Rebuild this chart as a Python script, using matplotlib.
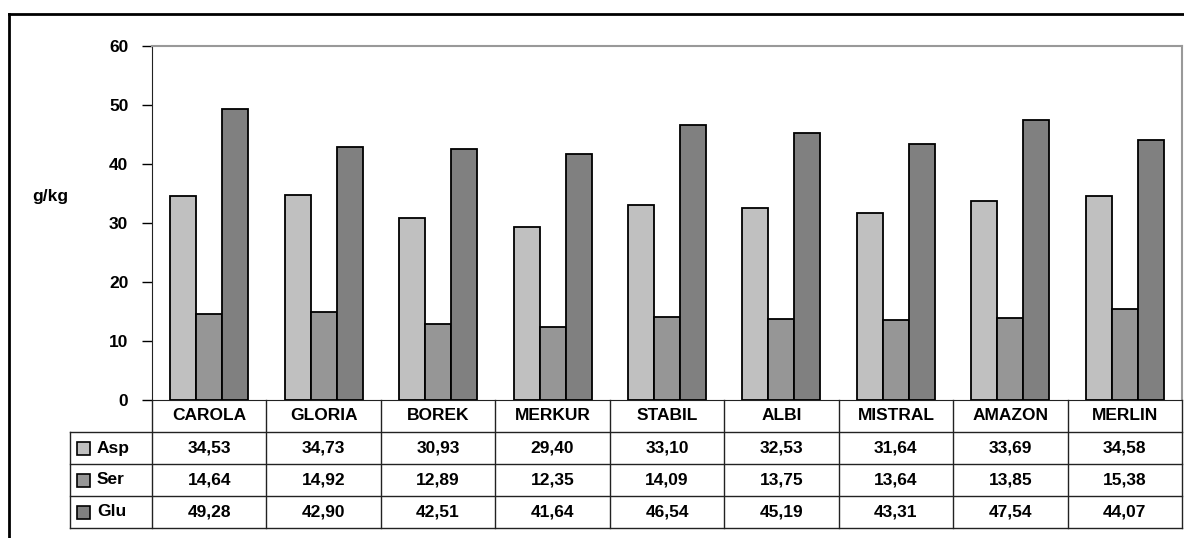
import matplotlib.pyplot as plt
import numpy as np
from matplotlib.lines import Line2D
from matplotlib.patches import Rectangle

plt.rcParams["font.family"] = ["Liberation Sans", "DejaVu Sans"]
plt.rcParams["font.weight"] = "bold"

varieties = ["CAROLA", "GLORIA", "BOREK", "MERKUR", "STABIL", "ALBI", "MISTRAL", "AMAZON", "MERLIN"]
series_names = ["Asp", "Ser", "Glu"]
asp = [34.53, 34.73, 30.93, 29.40, 33.10, 32.53, 31.64, 33.69, 34.58]
ser = [14.64, 14.92, 12.89, 12.35, 14.09, 13.75, 13.64, 13.85, 15.38]
glu = [49.28, 42.90, 42.51, 41.64, 46.54, 45.19, 43.31, 47.54, 44.07]
colors = ["#c0c0c0", "#969696", "#808080"]
y_ticks = [0, 10, 20, 30, 40, 50, 60]

W, H = 1184, 538
FS = 12.5
fig = plt.figure(figsize=(W / 100, H / 100), dpi=100)


def px_axes(left, top, right, bottom):
    return fig.add_axes([left / W, 1 - bottom / H, (right - left) / W, (bottom - top) / H])


# bar chart area
ax = px_axes(152, 46, 1182, 400)
x = np.arange(len(varieties))
bw = 0.227
for i, (vals, c) in enumerate(zip([asp, ser, glu], colors)):
    ax.bar(x + (i - 1) * bw, vals, bw, color=c, edgecolor="black", linewidth=1.3, zorder=3)

ax.set_xlim(-0.5, len(varieties) - 0.5)
ax.set_ylim(0, 60)
ax.set_yticks(y_ticks)
ax.set_yticklabels([str(t) for t in y_ticks], fontsize=FS, fontweight="bold")
ax.tick_params(axis="y", direction="out", length=7, width=1, pad=10)
ax.set_xticks([])
for side in ("top", "right"):
    ax.spines[side].set_color("#999999")
    ax.spines[side].set_linewidth(1.5)
ax.spines["left"].set_color("#222222")
ax.spines["bottom"].set_color("#222222")
fig.text(50 / W, 1 - 196 / H, "g/kg", ha="center", va="center", fontsize=FS, fontweight="bold")

# data table below the bars
left_px = 70
unit = (1182 - 152) / len(varieties)
x0 = -0.5 - (152 - left_px) / unit
tab = px_axes(left_px, 400, 1182, 528)
tab.set_xlim(x0, len(varieties) - 0.5)
tab.set_ylim(0, 4)
tab.axis("off")

lc = "#222222"
for k in range(len(varieties) + 1):
    tab.plot([k - 0.5, k - 0.5], [0, 4], color=lc, lw=1, clip_on=False)
tab.plot([x0, x0], [0, 3], color=lc, lw=1, clip_on=False)
for yy in range(4):
    tab.plot([x0, len(varieties) - 0.5], [yy, yy], color=lc, lw=1, clip_on=False)

for j, name in enumerate(varieties):
    tab.text(j, 3.5, name, ha="center", va="center", fontsize=FS, fontweight="bold")

key_w = 13 / unit
key_h = 13 / 32
for r, (name, vals, c) in enumerate(zip(series_names, [asp, ser, glu], colors)):
    yc = 2.5 - r
    tab.add_patch(Rectangle((x0 + 7 / unit, yc - key_h / 2), key_w, key_h, facecolor=c,
                            edgecolor="black", lw=1.2, clip_on=False))
    tab.text(x0 + 27 / unit, yc, name, ha="left", va="center",
             fontsize=FS, fontweight="bold")
    for j, v in enumerate(vals):
        tab.text(j, yc, f"{v:.2f}".replace(".", ","), ha="center", va="center",
                 fontsize=FS, fontweight="bold")

# outer frame
fig.add_artist(Line2D([9 / W, 9 / W], [0, 1 - 14 / H], color="black", lw=2))
fig.add_artist(Line2D([9 / W, 1], [1 - 14 / H, 1 - 14 / H], color="black", lw=2))

fig.savefig("out.png", dpi=100)
